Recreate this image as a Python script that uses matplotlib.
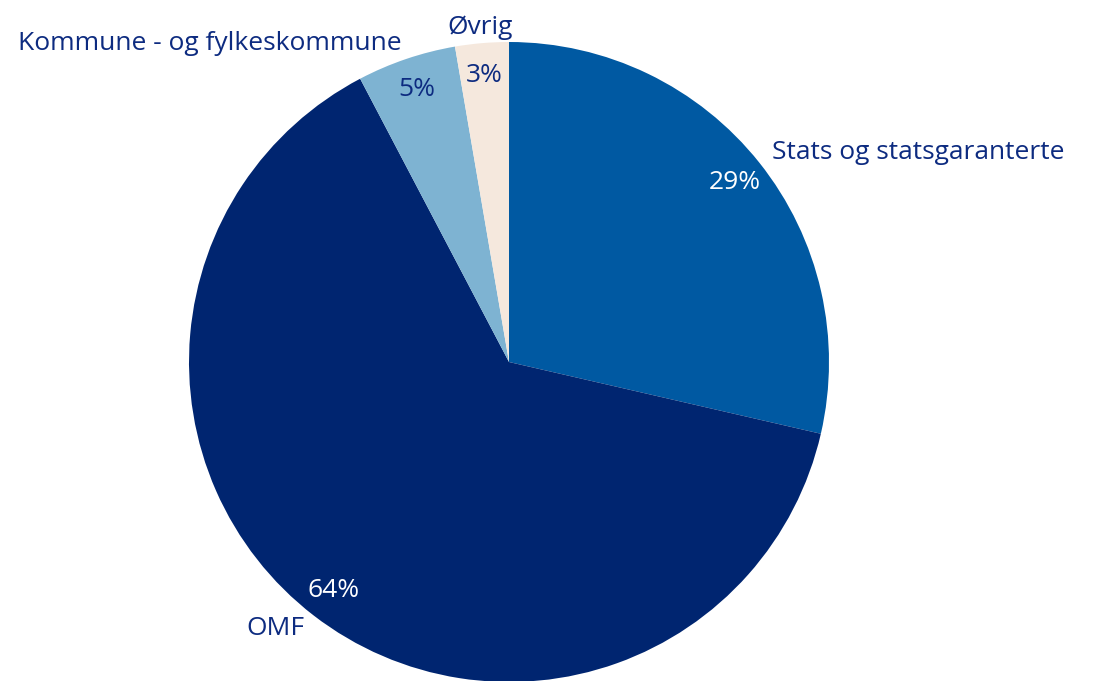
import matplotlib.pyplot as plt

plt.rcParams['font.family'] = ['Open Sans', 'DejaVu Sans']

# Fordeling av beholdning etter utstedersektor
kategorier = ["Stats og statsgaranterte", "OMF", "Kommune - og fylkeskommune", "Øvrig"]
andeler = [28.6, 63.7, 5.0, 2.7]
farger = ["#0059A2", "#002570", "#7EB3D2", "#F5E8DD"]
tekstfarge = "#0D2B80"
prosentfarger = ["white", "white", tekstfarge, tekstfarge]

fig = plt.figure(figsize=(11.07, 6.81), dpi=100)
ax = fig.add_axes([(509 - 320) / 1107, (319 - 320) / 681, 640 / 1107, 640 / 681])

wedges, labels, pcts = ax.pie(
    andeler, labels=kategorier, colors=farger, startangle=90, counterclock=False,
    autopct="%.0f%%", pctdistance=0.9, labeldistance=1.05,
    textprops=dict(fontsize=19, color=tekstfarge),
)
for t, c in zip(pcts, prosentfarger):
    t.set_color(c)
labels[3].set_ha("center")

ax.set_xlim(-1, 1)
ax.set_ylim(-1, 1)

fig.savefig("out.png", dpi=100)
